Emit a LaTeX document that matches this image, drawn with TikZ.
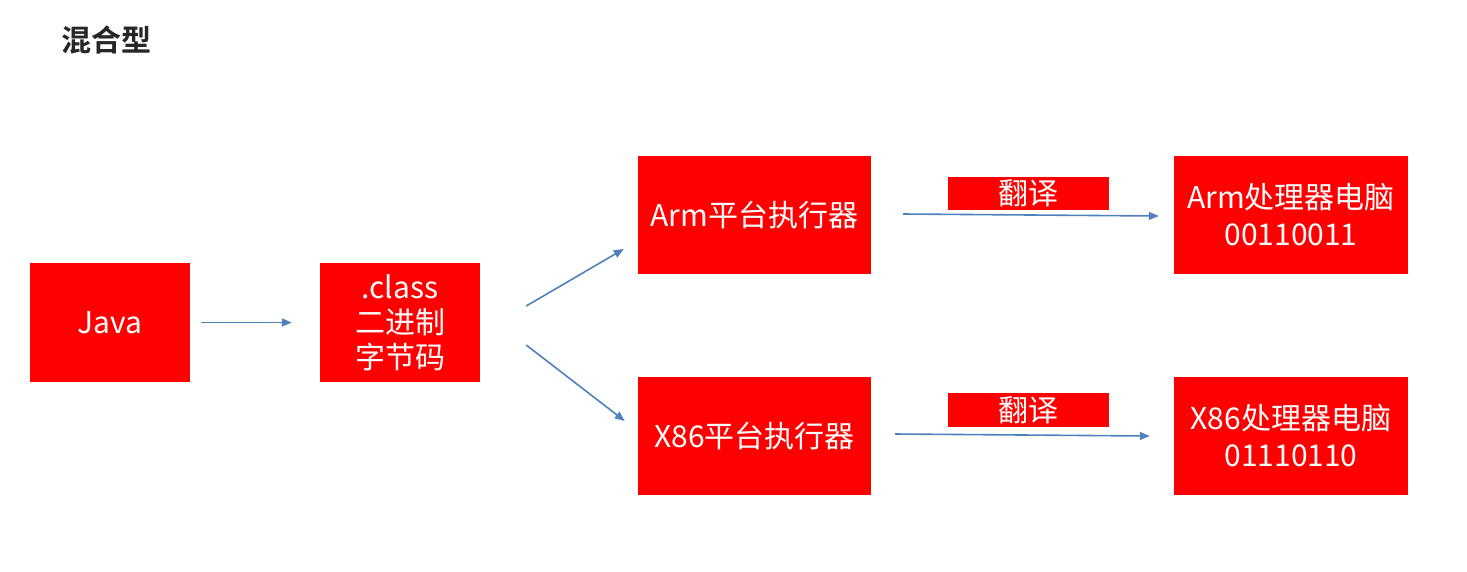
\documentclass[tikz,border=0pt]{standalone}
\usepackage{fontspec}
\setmainfont{Noto Sans CJK SC}
\newfontfamily\cjkbold{Noto Sans CJK SC Bold}
\usetikzlibrary{arrows.meta}
\definecolor{boxred}{HTML}{FF0000}
\definecolor{arrowblue}{HTML}{4F81BD}
\definecolor{titlegray}{HTML}{262626}
\tikzset{
  redbox/.style={rectangle, fill=boxred, draw=none, text=white, align=center,
    inner sep=0pt, font=\fontsize{30}{36}\selectfont},
  flow/.style={draw=arrowblue, line width=1.6pt, -{Triangle[length=10pt,width=8pt]}},
}
\begin{document}
\begin{tikzpicture}[x=1pt,y=-1pt]
\useasboundingbox (0,0) rectangle (1467,571);
\node[anchor=west, text=titlegray, font=\cjkbold\fontsize{30}{34}\selectfont] (title) at (58,40) {混合型};
\node[redbox, minimum width=160pt, minimum height=119pt] (java) at (110,322.5) {Java};
\node[redbox, minimum width=160pt, minimum height=119pt, font=\fontsize{30}{35}\selectfont] (cls) at (400,322.5) {.class\\二进制\\字节码};
\node[redbox, minimum width=233pt, minimum height=118pt] (arm) at (754.5,215) {Arm平台执行器};
\node[redbox, minimum width=233pt, minimum height=118pt] (x86) at (754.5,436) {X86平台执行器};
\node[redbox, minimum width=234pt, minimum height=118pt, font=\fontsize{30}{37}\selectfont] (armpc) at (1291,215) {Arm处理器电脑\\00110011};
\node[redbox, minimum width=234pt, minimum height=118pt, font=\fontsize{30}{37}\selectfont] (x86pc) at (1291,436) {X86处理器电脑\\01110110};
\node[redbox, minimum width=161pt, minimum height=33pt] (tr1) at (1028.5,193.5) {翻译};
\node[redbox, minimum width=161pt, minimum height=34pt] (tr2) at (1028.5,410) {翻译};
\draw[flow] ([xshift=11pt]java.east) -- ([xshift=-28pt]cls.west);
\draw[flow] ([shift={(46,-16.5)}]cls.east) -- ([shift={(-14,34)}]arm.west);
\draw[flow] ([shift={(46,22.5)}]cls.east) -- ([shift={(-13,-15)}]x86.west);
\draw[flow] ([shift={(32,-1)}]arm.east) -- ([shift={(-15,1)}]armpc.west);
\draw[flow] ([shift={(24,-2)}]x86.east) -- ([shift={(-24,0)}]x86pc.west);
\end{tikzpicture}
\end{document}
